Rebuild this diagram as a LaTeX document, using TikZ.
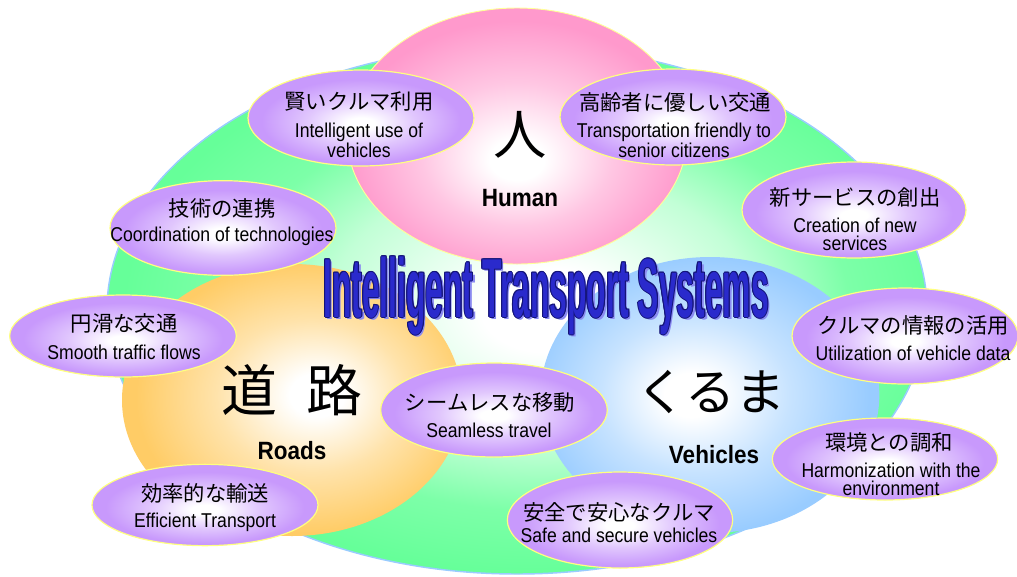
\documentclass[tikz,border=0pt]{standalone}
\usepackage{fontspec}
\setmainfont{Liberation Sans}
\newfontfamily\jpf{Noto Sans CJK JP}
\usetikzlibrary{shapes.geometric}
\definecolor{greenC}{HTML}{66FF99}
\definecolor{pinkC}{HTML}{FF99CC}
\definecolor{orangeC}{HTML}{FFCC66}
\definecolor{blueC}{HTML}{99CCFF}
\definecolor{purpC}{HTML}{C899FC}
\definecolor{bubbleEdge}{HTML}{FFFF80}
\definecolor{greenEdge}{HTML}{99CCFF}
\definecolor{pinkEdge}{HTML}{FFFF99}
\definecolor{titleC}{HTML}{2A2ACC}
\definecolor{titleEdge}{HTML}{141478}
\definecolor{titleShadow}{HTML}{8A8AF0}
\pgfdeclareradialshading{greensh}{\pgfpoint{2bp}{0bp}}{color(0bp)=(white); color(4bp)=(white); color(13bp)=(greenC!40!white); color(19bp)=(greenC!85!white); color(25bp)=(greenC); color(50bp)=(greenC)}
\pgfdeclareradialshading{pinksh}{\pgfpoint{0bp}{-5bp}}{color(0bp)=(white); color(4bp)=(white); color(14bp)=(pinkC!55!white); color(25bp)=(pinkC); color(50bp)=(pinkC)}
\pgfdeclareradialshading{orangesh}{\pgfpoint{4bp}{1bp}}{color(0bp)=(white); color(4bp)=(white); color(14bp)=(orangeC!55!white); color(25bp)=(orangeC); color(50bp)=(orangeC)}
\pgfdeclareradialshading{bluesh}{\pgfpoint{-3bp}{0bp}}{color(0bp)=(white); color(4bp)=(white); color(14bp)=(blueC!55!white); color(25bp)=(blueC); color(50bp)=(blueC)}
\pgfdeclareradialshading{purpsh}{\pgfpoint{0bp}{-3bp}}{color(0bp)=(white); color(3bp)=(white); color(12bp)=(purpC!55!white); color(22bp)=(purpC); color(50bp)=(purpC)}
\begin{document}
\begin{tikzpicture}[x=0.75pt,y=-0.75pt,
  bigell/.style={ellipse, inner sep=0pt, outer sep=0pt, shade},
  bubble/.style={ellipse, inner sep=0pt, outer sep=0pt, shade, shading=purpsh, draw=bubbleEdge, line width=0.9pt},
  jptext/.style={font=\jpf\fontsize{16pt}{19pt}\selectfont, inner sep=0pt},
  entext/.style={font=\fontsize{15pt}{13.5pt}\selectfont, align=center, xscale=0.88, inner sep=0pt},
  bigjp/.style={font=\jpf\fontsize{#1}{#1}\selectfont, inner sep=0pt},
  biglabel/.style={font=\bfseries\fontsize{18.75pt}{20pt}\selectfont, xscale=0.9, inner sep=0pt},
  titletext/.style={font=\bfseries\fontsize{62.8pt}{70pt}\selectfont, xscale=0.38, inner sep=0pt, anchor=base}]
\useasboundingbox (0,0) rectangle (1017,576);
\fill[white] (0,0) rectangle (1017,576);
% big ellipses
\node[bigell, shading=greensh, draw=greenEdge, line width=1.1pt, minimum width=615pt, minimum height=396pt] (green) at (517,310) {};
\node[bigell, shading=pinksh, draw=pinkEdge, line width=0.7pt, minimum width=255pt, minimum height=192pt] (human) at (517,136) {};
\node[bigell, shading=orangesh, minimum width=255pt, minimum height=204pt] (roads) at (292,400) {};
\node[bigell, shading=bluesh, minimum width=254pt, minimum height=207pt] (vehicles) at (710,395) {};
% bubbles
\node[bubble, minimum width=169.5pt, minimum height=72pt] (e1) at (361,118) {};
\node[bubble, minimum width=169.5pt, minimum height=72pt] (e2) at (673,117) {};
\node[bubble, minimum width=169.5pt, minimum height=71pt] (e3) at (223,228) {};
\node[bubble, minimum width=168pt, minimum height=72pt] (e4) at (854,210) {};
\node[bubble, minimum width=170pt, minimum height=61.5pt] (e5) at (123,336) {};
\node[bubble, minimum width=169.5pt, minimum height=72pt] (e6) at (905,336) {};
\node[bubble, minimum width=170pt, minimum height=70.5pt] (e7) at (494,410) {};
\node[bubble, minimum width=169pt, minimum height=61.5pt] (e8) at (885,459) {};
\node[bubble, minimum width=169pt, minimum height=72pt] (e9) at (620,520) {};
\node[bubble, minimum width=169.5pt, minimum height=61pt] (e10) at (205,505) {};
% big texts
\node[bigjp=40pt] (hitoj) at (520,135) {人};
\node[bigjp=42pt] (roadj) at (292,390) {道\hspace{22.5pt}路};
\node[bigjp=37.5pt] (kurumaj) at (711,392) {くるま};
\node[biglabel] (humanl) at (520,198) {Human};
\node[biglabel] (roadsl) at (292,451) {Roads};
\node[biglabel] (vehl) at (714,455) {Vehicles};
% bubble texts
\node[jptext] (j1) at (359,102) {賢いクルマ利用};
\node[entext] (t1) at (359,140) {Intelligent use of\\vehicles};
\node[jptext] (j2) at (675,102) {高齢者に優しい交通};
\node[entext] (t2) at (674,140) {Transportation friendly to\\senior citizens};
\node[jptext] (j3) at (222,208) {技術の連携};
\node[entext] (t3) at (222,236) {Coordination of technologies};
\node[jptext] (j4) at (855,197) {新サービスの創出};
\node[entext] (t4) at (855,234) {Creation of new\\services};
\node[jptext] (j5) at (124,323) {円滑な交通};
\node[entext] (t5) at (124,352) {Smooth traffic flows};
\node[jptext] (j6) at (913,325) {クルマの情報の活用};
\node[entext] (t6) at (913,353) {Utilization of vehicle data};
\node[jptext] (j7) at (490,402) {シームレスな移動};
\node[entext] (t7) at (489,430) {Seamless travel};
\node[jptext] (j8) at (889,442) {環境との調和};
\node[entext] (t8) at (891,479) {Harmonization with the\\environment};
\node[jptext] (j9) at (619,512) {安全で安心なクルマ};
\node[entext] (t9) at (619,535) {Safe and secure vehicles};
\node[jptext] (j10) at (205,493) {効率的な輸送};
\node[entext] (t10) at (205,522) {Efficient Transport};
% title
\node[titletext, text=titleShadow] (tsh) at (548.5,319.5) {Intelligent Transport Systems};
\foreach \dx/\dy [count=\i] in {1/0,-1/0,0/1,0/-1,0.7/0.7,-0.7/0.7,0.7/-0.7,-0.7/-0.7}
  \node[titletext, text=titleEdge] (tout\i) at (546+\dx,317+\dy) {Intelligent Transport Systems};
\node[titletext, text=titleC] (title) at (546,317) {Intelligent Transport Systems};
\end{tikzpicture}
\end{document}
